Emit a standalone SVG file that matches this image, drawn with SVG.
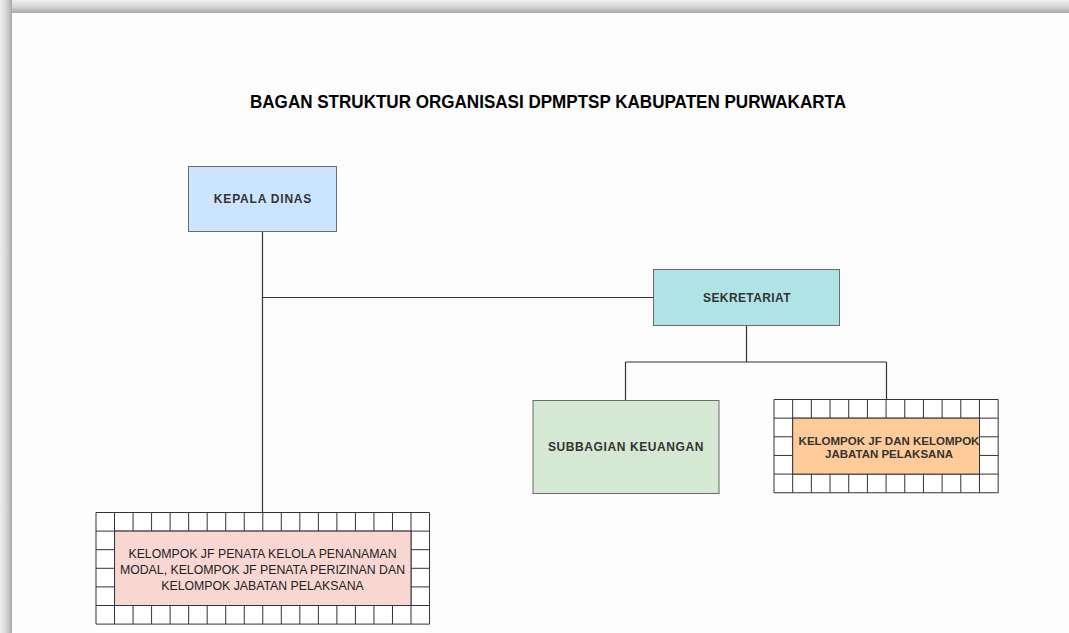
<svg xmlns="http://www.w3.org/2000/svg" width="1069" height="633" viewBox="0 0 1069 633">
<defs>
<linearGradient id="gTop" x1="0" y1="0" x2="0" y2="1"><stop offset="0" stop-color="#eeeeee"/><stop offset="0.55" stop-color="#d4d4d4"/><stop offset="1" stop-color="#a8a8a8"/></linearGradient>
<linearGradient id="gLeft" x1="0" y1="0" x2="1" y2="0"><stop offset="0" stop-color="#eeeeee"/><stop offset="0.55" stop-color="#d4d4d4"/><stop offset="1" stop-color="#a8a8a8"/></linearGradient>
<style>
.box{stroke:#6b6b6b;stroke-width:1}
.grid{fill:none;stroke:#333;stroke-width:1}
.conn{fill:none;stroke:#333;stroke-width:1.2}
.lbl{font-family:"Liberation Sans",Arial,sans-serif;font-size:12px;font-weight:bold;fill:#333;text-anchor:middle;dominant-baseline:central}
.lbls{font-family:"Liberation Sans",Arial,sans-serif;font-size:11.5px;font-weight:bold;fill:#333;text-anchor:middle;dominant-baseline:central}
.lblr{font-family:"Liberation Sans",Arial,sans-serif;font-size:12.3px;fill:#222;text-anchor:middle;dominant-baseline:central}
.title{font-family:"Liberation Sans",Arial,sans-serif;font-size:18px;font-weight:bold;fill:#000;text-anchor:middle;dominant-baseline:central}
</style>
</defs>
<rect x="0" y="0" width="1069" height="633" fill="#fdfdfd"/>
<rect x="0" y="0" width="1069" height="13" fill="url(#gTop)"/>
<rect x="0" y="0" width="12" height="633" fill="url(#gLeft)"/>
<text class="title" x="548" y="102" textLength="596" lengthAdjust="spacingAndGlyphs">BAGAN STRUKTUR ORGANISASI DPMPTSP KABUPATEN PURWAKARTA</text>
<g id="connectors">
<path class="conn" d="M262.5 231 V512.5 M262.5 297.5 H653.5"/>
<path class="conn" d="M746.5 325 V362 M625.5 362 H886.5 M625.5 362 V400 M886.5 362 V399.5"/>
</g>
<g id="kepala-dinas">
<rect class="box" x="188.5" y="166.5" width="148" height="65" fill="#cce5ff"/>
<text class="lbl" x="263" y="199" letter-spacing="0.8">KEPALA DINAS</text>
</g>
<g id="sekretariat">
<rect class="box" x="653.5" y="269.5" width="186" height="56" fill="#b0e3e6"/>
<text class="lbl" x="747" y="297.5" letter-spacing="0.4">SEKRETARIAT</text>
</g>
<g id="subbagian-keuangan">
<rect class="box" x="533" y="400.5" width="186" height="93" fill="#d5e8d4"/>
<text class="lbl" x="626" y="447" letter-spacing="0.6">SUBBAGIAN KEUANGAN</text>
</g>
<g id="kelompok-jf-sekretariat">
<rect x="774" y="399.5" width="224.16" height="93.25" fill="#fff"/>
<path class="grid" d="M774 399.5V492.75M792.68 399.5V492.75M811.36 399.5V492.75M830.04 399.5V492.75M848.72 399.5V492.75M867.4 399.5V492.75M886.08 399.5V492.75M904.76 399.5V492.75M923.44 399.5V492.75M942.12 399.5V492.75M960.8 399.5V492.75M979.48 399.5V492.75M998.16 399.5V492.75M774 399.5H998.16M774 418.15H998.16M774 436.8H998.16M774 455.45H998.16M774 474.1H998.16M774 492.75H998.16"/>
<rect x="792.68" y="418.15" width="186.8" height="55.95" fill="#ffcc99" stroke="#333" stroke-width="1"/>
<text class="lbls" x="889" y="440.5">KELOMPOK JF DAN KELOMPOK</text>
<text class="lbls" x="889" y="454">JABATAN PELAKSANA</text>
</g>
<g id="kelompok-jf-penanaman-modal">
<rect x="96" y="512.5" width="333.54" height="111.6" fill="#fff"/>
<path class="grid" d="M96 512.5V624.1M114.53 512.5V624.1M133.06 512.5V624.1M151.59 512.5V624.1M170.12 512.5V624.1M188.65 512.5V624.1M207.18 512.5V624.1M225.71 512.5V624.1M244.24 512.5V624.1M262.77 512.5V624.1M281.3 512.5V624.1M299.83 512.5V624.1M318.36 512.5V624.1M336.89 512.5V624.1M355.42 512.5V624.1M373.95 512.5V624.1M392.48 512.5V624.1M411.01 512.5V624.1M429.54 512.5V624.1M96 512.5H429.54M96 531.1H429.54M96 549.7H429.54M96 568.3H429.54M96 586.9H429.54M96 605.5H429.54M96 624.1H429.54"/>
<rect x="114.53" y="531.1" width="296.48" height="74.4" fill="#f8d7d3" stroke="#333" stroke-width="1"/>
<text class="lblr" x="262.5" y="553.5">KELOMPOK JF PENATA KELOLA PENANAMAN</text>
<text class="lblr" x="262.5" y="569.5">MODAL, KELOMPOK JF PENATA PERIZINAN DAN</text>
<text class="lblr" x="262.5" y="585.5">KELOMPOK JABATAN PELAKSANA</text>
</g>
</svg>
